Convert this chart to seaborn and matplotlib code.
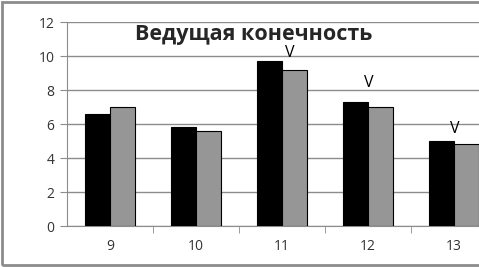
import pandas as pd
import seaborn as sns
from matplotlib import pyplot as plt
from matplotlib.patches import Rectangle

ages = ['9', '10', '11', '12', '13']
series_a = [6.6, 5.8, 9.7, 7.3, 5.0]
series_b = [7.0, 5.6, 9.2, 7.0, 4.8]
v_x = [2.09, 3.01, 4.01]
v_level = [9.95, 8.15, 5.45]

df = pd.DataFrame({
    'age': ages * 2,
    'value': series_a + series_b,
    'series': ['a'] * len(ages) + ['b'] * len(ages),
})

sns.set_style('white')
plt.rcParams['font.family'] = ['Open Sans', 'DejaVu Sans']

fig = plt.figure(figsize=(4.79, 2.67), dpi=100)
ax = fig.add_axes([67 / 479, 41 / 267, 430 / 479, 204 / 267])

sns.barplot(data=df, x='age', y='value', hue='series', order=ages,
            palette=['black', '#969696'], edgecolor='black', linewidth=0.8,
            width=0.57, ax=ax, legend=False, zorder=3)

for x, y in zip(v_x, v_level):
    ax.text(x, y, 'V', ha='center', va='baseline',
            fontsize=11.5, color='black', zorder=4)

ax.set_xlim(-0.5, 4.5)
ax.set_ylim(0, 12)
ax.set_yticks(range(0, 13, 2))
ax.set_xticks(range(len(ages)))
ax.set_xticklabels(ages)
ax.set_xticks([i + 0.5 for i in range(len(ages) - 1)], minor=True)
ax.set_xlabel('')
ax.set_ylabel('')
ax.grid(axis='y', color='#8c8c8c', linewidth=1, zorder=0)
for side in ['top', 'right']:
    ax.spines[side].set_visible(False)
ax.spines['left'].set_color('#8c8c8c')
ax.spines['bottom'].set_color('#8c8c8c')
ax.tick_params(axis='y', which='major', length=5, color='#8c8c8c', left=True,
               labelsize=10, labelcolor='#333333', pad=4)
ax.tick_params(axis='x', which='major', length=0, labelsize=10,
               labelcolor='#333333', pad=9)
ax.tick_params(axis='x', which='minor', length=5, color='#8c8c8c', bottom=True,
               direction='out')

ax.set_title('Ведущая конечность', fontsize=15.5, fontweight='bold',
             y=0.87, x=0.433)

fig.patches.append(Rectangle((2 / 479, 2 / 267), 1.2, 263 / 267,
                             transform=fig.transFigure, fill=False,
                             edgecolor='#8c8c8c', linewidth=2))

fig.savefig('out.png', dpi=100)
